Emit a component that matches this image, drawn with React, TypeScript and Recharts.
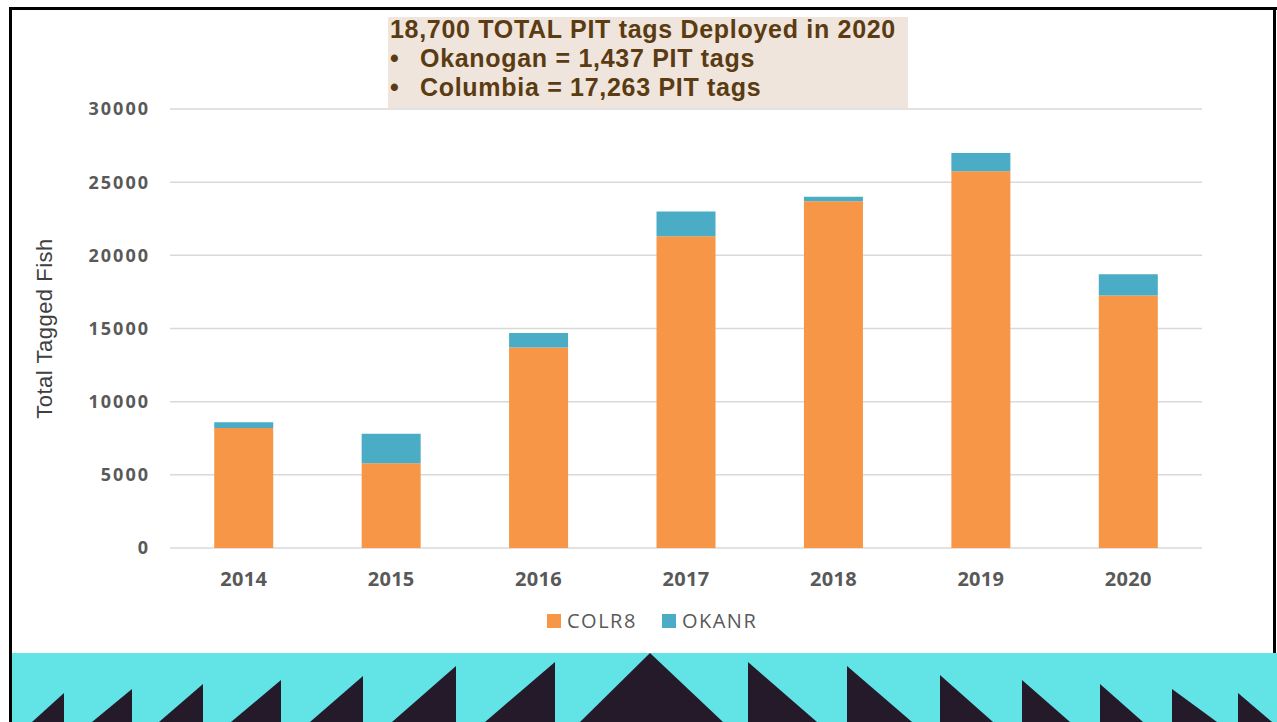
import { BarChart, Bar, XAxis, YAxis, CartesianGrid, Legend, Label } from "recharts";

const years = ["2014", "2015", "2016", "2017", "2018", "2019", "2020"];
const colr8 = [8200, 5800, 13700, 21300, 23700, 25750, 17263];
const okanr = [400, 2000, 1000, 1700, 300, 1250, 1437];
const yTicks = [0, 5000, 10000, 15000, 20000, 25000, 30000];

const seriesNames = ["COLR8", "OKANR"];
const seriesColors = ["#F79646", "#4BACC6"];

const titleLines = [
  "18,700 TOTAL PIT tags Deployed in 2020",
  "Okanogan = 1,437 PIT tags",
  "Columbia = 17,263 PIT tags",
];

// decorative band at the bottom of the slide (page coordinates)
const leftTeeth = [
  [64, 693, 32], [132, 689, 92], [203, 684, 159], [281, 680, 231],
  [363, 676, 310], [456, 666, 392], [555, 662, 485],
];
const rightTeeth = [
  [748, 662, 817], [847, 666, 912], [940, 675, 993], [1022, 680, 1070],
  [1100, 684, 1143], [1172, 689, 1217], [1238, 693, 1272],
];

const chartData = years.map((year, i) => ({
  year,
  COLR8: colr8[i],
  OKANR: okanr[i],
}));

const tickStyle = {
  fill: "#595959",
  fontFamily: "'Open Sans', sans-serif",
  fontWeight: 700,
};

function YLabel(props: any) {
  const vb = props.viewBox || { x: 70, y: 109, width: 100, height: 439 };
  const cx = 52;
  const cy = vb.y + vb.height / 2;
  return (
    <text
      x={cx}
      y={cy}
      textAnchor="middle"
      transform={`rotate(-90, ${cx}, ${cy})`}
      fill="#404040"
      fontSize={22}
      letterSpacing={0.5}
      fontFamily="'Liberation Sans', Arial, sans-serif"
    >
      Total Tagged Fish
    </text>
  );
}

function LegendBox() {
  return (
    <div style={{ display: "flex", alignItems: "center", height: 26 }}>
      {seriesNames.map((name, i) => (
        <div key={name} style={{ display: "flex", alignItems: "center", marginRight: 25 }}>
          <span
            style={{ width: 14, height: 14, background: seriesColors[i], marginRight: 6, display: "inline-block" }}
          />
          <span
            style={{
              fontFamily: "'Open Sans', sans-serif",
              fontSize: 20,
              letterSpacing: 1.5,
              color: "#595959",
              lineHeight: "26px",
            }}
          >
            {name}
          </span>
        </div>
      ))}
    </div>
  );
}

export default function App() {
  return (
    <div
      style={{
        position: "absolute",
        left: 0,
        top: 0,
        width: 1277,
        height: 722,
        background: "#ffffff",
        overflow: "hidden",
      }}
    >
      <BarChart
        width={1277}
        height={722}
        data={chartData}
        margin={{ top: 109, right: 75, left: 70, bottom: 144 }}
        barCategoryGap="30%"
      >
        <CartesianGrid vertical={false} stroke="#d9d9d9" strokeWidth={1.5} />
        <XAxis
          dataKey="year"
          axisLine={false}
          tickLine={false}
          tickSize={0}
          tickMargin={24}
          height={30}
          tick={{ ...tickStyle, fontSize: 20, letterSpacing: 0.3 }}
        />
        <YAxis
          width={100}
          domain={[0, 30000]}
          ticks={yTicks}
          axisLine={false}
          tickLine={false}
          tickSize={0}
          tickMargin={20}
          tick={{ ...tickStyle, fontSize: 18, letterSpacing: 2 }}
        >
          <Label content={<YLabel />} />
        </YAxis>
        <Legend
          layout="horizontal"
          verticalAlign="middle"
          align="center"
          wrapperStyle={{ top: 608, left: 547, width: 300 }}
          content={() => <LegendBox />}
        />
        <Bar dataKey="COLR8" stackId="a" fill={seriesColors[0]} isAnimationActive={false} />
        <Bar dataKey="OKANR" stackId="a" fill={seriesColors[1]} isAnimationActive={false} />
      </BarChart>

      <div
        style={{
          position: "absolute",
          left: 388,
          top: 17,
          width: 520,
          height: 91,
          background: "#efe5dc",
          color: "#5a3b12",
          fontFamily: "'Liberation Sans', Arial, sans-serif",
          fontWeight: 700,
          fontSize: 25,
          letterSpacing: 0.7,
          lineHeight: "29px",
        }}
      >
        <div style={{ paddingLeft: 2, marginTop: -2 }}>{titleLines[0]}</div>
        {titleLines.slice(1).map((line) => (
          <div key={line} style={{ display: "flex" }}>
            <span style={{ width: 30, paddingLeft: 2 }}>•</span>
            <span>{line}</span>
          </div>
        ))}
      </div>

      <svg
        width={1266}
        height={69}
        style={{ position: "absolute", left: 11, top: 653 }}
        viewBox="11 653 1266 69"
      >
        <rect x={11} y={653} width={1266} height={69} fill="#62e3e6" />
        {leftTeeth.map(([vx, ty, bx], i) => (
          <polygon key={"l" + i} points={`${bx},722 ${vx},${ty} ${vx},722`} fill="#241a29" />
        ))}
        <polygon points="580,722 650,653 723,722" fill="#241a29" />
        {rightTeeth.map(([vx, ty, bx], i) => (
          <polygon key={"r" + i} points={`${vx},722 ${vx},${ty} ${bx},722`} fill="#241a29" />
        ))}
      </svg>

      <div style={{ position: "absolute", left: 9, top: 7, width: 1268, height: 3, background: "#000" }} />
      <div style={{ position: "absolute", left: 9, top: 7, width: 3, height: 715, background: "#000" }} />
      <div style={{ position: "absolute", left: 1273, top: 7, width: 3, height: 646, background: "#000" }} />
    </div>
  );
}
